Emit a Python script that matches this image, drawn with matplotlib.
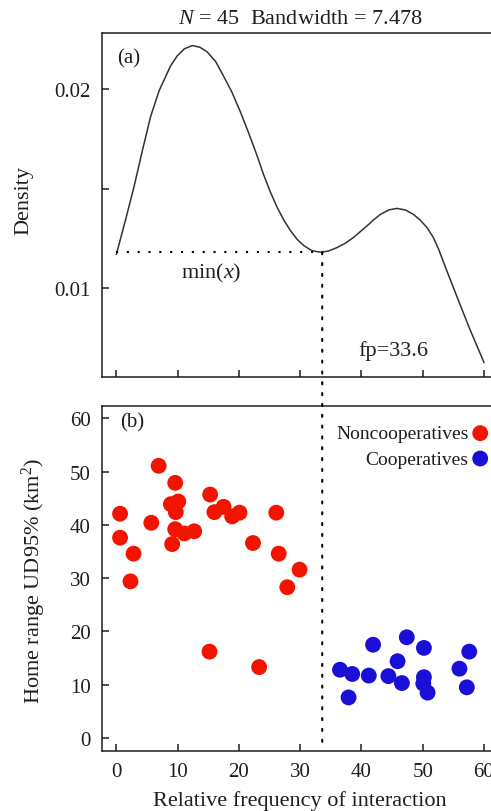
import numpy as np
import matplotlib
matplotlib.use("Agg")
import matplotlib.pyplot as plt
from matplotlib.patches import ConnectionPatch

plt.rcParams['font.family'] = ['Liberation Serif', 'DejaVu Serif']
plt.rcParams['mathtext.fontset'] = 'custom'
plt.rcParams['mathtext.rm'] = 'Liberation Serif'
plt.rcParams['mathtext.it'] = 'Liberation Serif:italic'

# density curve
dens_x = [0.0, 1.5, 2.9, 4.3, 5.6, 7.0, 8.8, 9.9, 11.1, 12.4, 13.6, 14.8, 16.2,
          17.5, 18.8, 20.2, 21.6, 22.95, 24.0, 25.1, 26.2, 27.3, 28.4, 29.5, 30.55,
          31.9, 33.3, 34.6, 36.0, 37.4, 38.7, 40.9, 42.0, 43.1, 44.5, 45.8, 47.2,
          48.5, 49.6, 50.7, 51.7, 52.6, 53.9, 55.6, 57.7, 60.0]
dens_y = [0.01172, 0.01345, 0.01514, 0.01700, 0.01865, 0.01995, 0.02115, 0.02167,
          0.02204, 0.02220, 0.02212, 0.02189, 0.02140, 0.02066, 0.01990, 0.01890,
          0.01780, 0.01668, 0.01574, 0.01487, 0.01410, 0.01345, 0.01291, 0.01247,
          0.01216, 0.01190, 0.01182, 0.01188, 0.01205, 0.01228, 0.01256, 0.01314,
          0.01345, 0.01372, 0.01395, 0.01402, 0.01394, 0.01372, 0.01343, 0.01306,
          0.01258, 0.01197, 0.01092, 0.00958, 0.00795, 0.00629]

fp = 33.6
dens_min = 0.01182
vline_bottom = -1.3

# panel (b) points
non_x = [0.6, 0.6, 2.8, 2.3, 5.7, 6.9, 9.6, 8.9, 10.1, 9.7, 9.6, 9.1, 11.1, 12.7,
         15.3, 16.0, 17.5, 18.9, 20.1, 22.3, 26.1, 26.5, 29.9, 27.9, 15.2, 23.3]
non_y = [42.1, 37.6, 34.6, 29.4, 40.4, 51.1, 47.9, 43.9, 44.4, 42.4, 39.2, 36.4, 38.4, 38.8,
         45.7, 42.4, 43.4, 41.6, 42.3, 36.6, 42.3, 34.6, 31.6, 28.3, 16.2, 13.3]
coop_x = [36.5, 38.5, 37.9, 41.2, 41.9, 44.4, 45.9, 46.6, 47.4, 50.2, 50.2, 50.1,
          50.8, 56.0, 57.6, 57.2]
coop_y = [12.8, 12.0, 7.6, 11.7, 17.5, 11.6, 14.4, 10.3, 18.9, 16.9, 11.4, 10.2,
          8.5, 13.0, 16.2, 9.5]

ink = '#1e1e1e'
red = '#f31400'
blue = '#1a0fd6'

fig = plt.figure(figsize=(4.91, 8.12), dpi=100)
ax1 = fig.add_axes([0.2071, 0.5349, 0.8085, 0.4232])
ax2 = fig.add_axes([0.2071, 0.0743, 0.8085, 0.4249])

for ax in (ax1, ax2):
    ax.spines['right'].set_visible(False)
    for s in ('left', 'bottom', 'top'):
        ax.spines[s].set_linewidth(1.1)
        ax.spines[s].set_color(ink)
    ax.set_xlim(-2.4, 62.4)
    ax.set_xticks(np.arange(0, 61, 10))
    ax.tick_params(direction='in', length=5, width=1.1, color=ink,
                   labelsize=15, labelcolor=ink, pad=8)

# (a)
ax1.plot(dens_x, dens_y, color='#333333', lw=1.1)
ax1.plot([0, fp], [dens_min, dens_min], color='black', lw=1.5, ls=(0, (1, 4.2)))
ax1.set_ylim(0.00557, 0.02283)
ax1.set_yticks([0.01, 0.015, 0.02])
ax1.set_yticklabels(['0.01', '', '0.02'])
ax1.set_xticklabels([])
ax1.set_ylabel('Density', fontsize=16, color=ink)
ax1.yaxis.set_label_coords(-0.173, 0.517)
ax1.set_title('$N$ = 45  Bandwidth = 7.478', fontsize=16, color=ink, pad=7)
ax1.text(1.96, 0.0216, '(a)', fontsize=15, color=ink, ha='center', va='center')
ax1.text(15.5, 0.01082, 'min($x$)', fontsize=16, color=ink, ha='center', va='center')
ax1.text(45.2, 0.00692, 'fp=33.6', fontsize=16, color=ink, ha='center', va='center')

# vertical dotted line through both panels
con = ConnectionPatch(xyA=(fp, dens_min), coordsA=ax1.transData,
                      xyB=(fp, vline_bottom), coordsB=ax2.transData,
                      color='black', lw=1.5, ls=(0, (1, 4.2)))
fig.add_artist(con)

# (b)
ax2.scatter(non_x, non_y, s=130, color=red, edgecolors='none', label='Noncooperatives')
ax2.scatter(coop_x, coop_y, s=130, color=blue, edgecolors='none', label='Cooperatives')
ax2.set_ylim(-2.4, 62.4)
ax2.set_yticks(np.arange(0, 61, 10))
ax2.set_ylabel('Home range UD95% (km$^2$)', fontsize=16, color=ink)
ax2.yaxis.set_label_coords(-0.135, 0.495)
ax2.set_xlabel('Relative frequency of interaction', fontsize=16, color=ink)
ax2.xaxis.set_label_coords(0.5, -0.115)
ax2.text(2.56, 59.3, '(b)', fontsize=15, color=ink, ha='center', va='center')
ax2.legend(loc='upper right', bbox_to_anchor=(0.978, 0.945), frameon=False,
           markerfirst=False, fontsize=14, handletextpad=0.1, labelspacing=0.4,
           borderaxespad=0, borderpad=0, handlelength=1.0, labelcolor=ink)

fig.savefig('out.png', dpi=100)
